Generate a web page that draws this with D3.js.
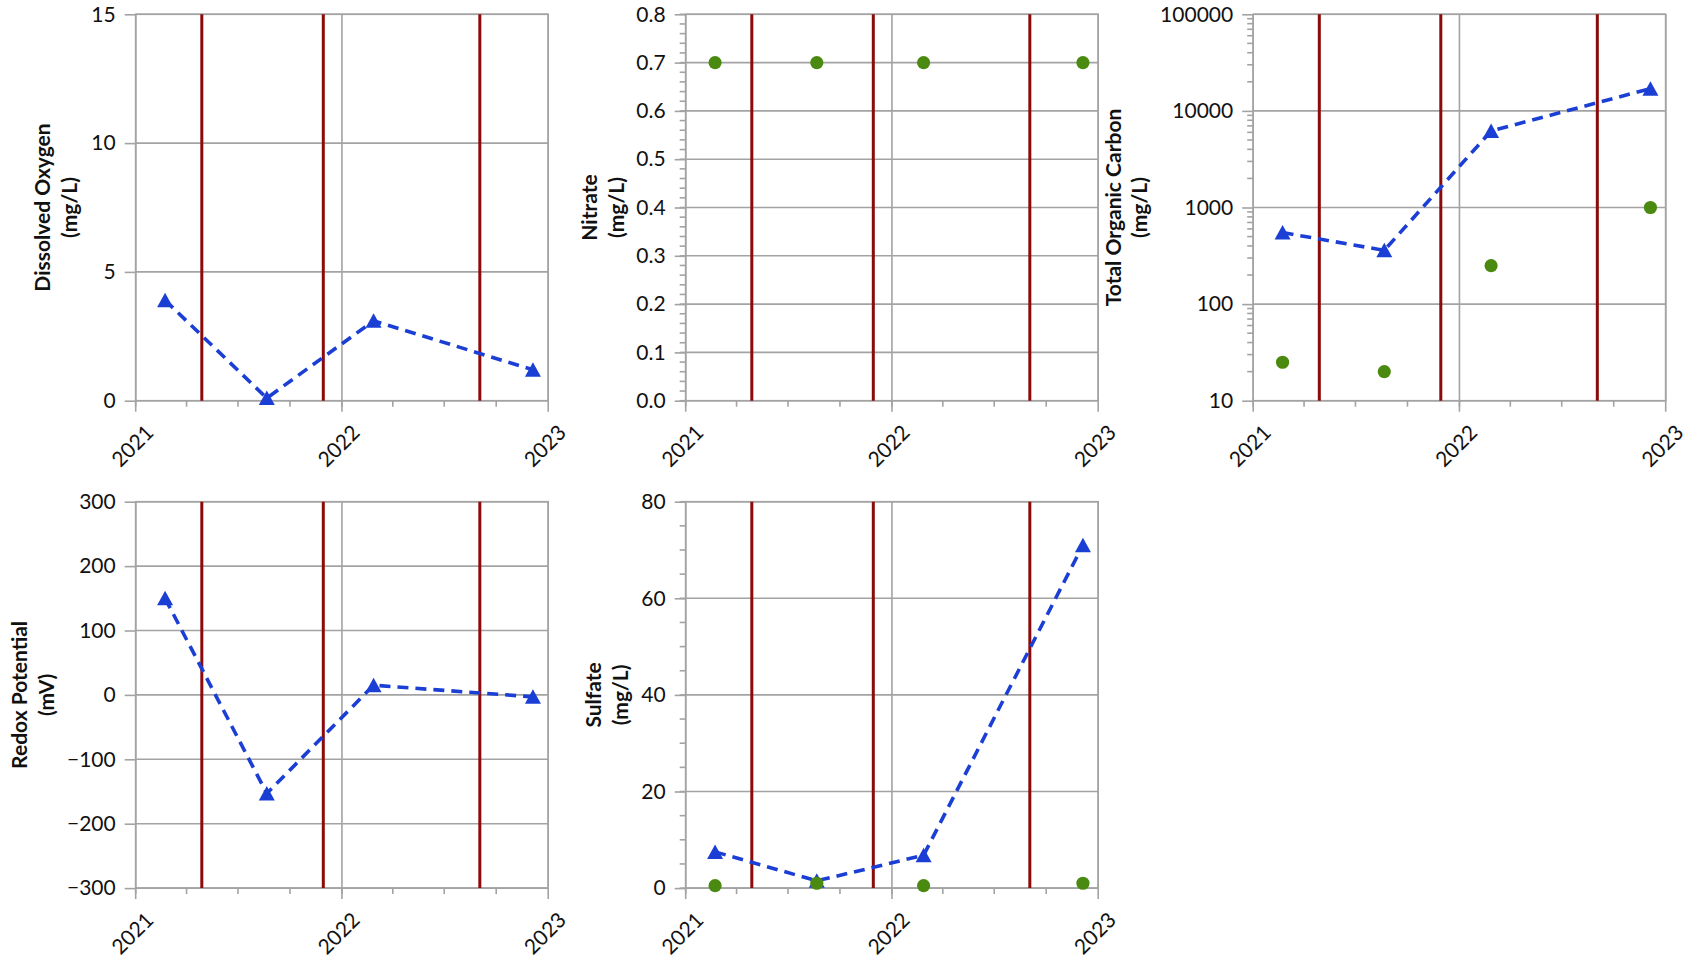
<!DOCTYPE html>
<html>
<head>
<meta charset="utf-8">
<script src="https://cdn.jsdelivr.net/npm/d3@7"></script>
<style>
  html, body { margin: 0; padding: 0; background: #fff; }
  svg { display: block; }
  .tick-label { font-family: Lato, "Open Sans", sans-serif; font-size: 21px; fill: #111; }
  .title { font-family: Lato, "Open Sans", sans-serif; font-size: 21px; font-weight: bold; fill: #111; }
</style>
</head>
<body>
<svg id="chart" width="1696" height="959"></svg>
<script>
// ---------------- data ----------------
const sampleDates = ["2021-02-22", "2021-08-21", "2022-02-26", "2022-12-05"];
const eventDates = ["2021-04-28", "2021-11-29", "2022-09-02"];
const xTickYears = ["2021", "2022", "2023"];

const dissolvedOxygen = [3.9, 0.1, 3.1, 1.2];            // triangles, dashed
const nitrateCircles = [0.7, 0.7, 0.7, 0.7];              // circles
const tocTriangles = [550, 360, 6200, 17000];             // triangles, dashed
const tocCircles = [25, 20, 250, 1000];                   // circles
const redoxTriangles = [150, -153, 15, -3];               // triangles, dashed
const sulfateTriangles = [7.5, 1.5, 6.8, 71];             // triangles, dashed
const sulfateCircles = [0.5, 1, 0.5, 1];                  // circles

const doTicks = [0, 5, 10, 15];
const nitrateTicks = [0, 0.1, 0.2, 0.3, 0.4, 0.5, 0.6, 0.7, 0.8];
const tocTicks = [10, 100, 1000, 10000, 100000];
const redoxTicks = [-300, -200, -100, 0, 100, 200, 300];
const sulfateTicks = [0, 20, 40, 60, 80];

// ---------------- layout ----------------
const parse = d3.timeParse("%Y-%m-%d");
const PW = 412.5, PH = 386.4;
const BLUE = "#1b3fd4", GREEN = "#4b8a10", RED = "#8b0a0a", GRID = "#a3a3a3";

const panels = [
  { left: 135.7, top: 14.3, title: ["Dissolved Oxygen", "(mg/L)"], titleOff: 92.7,
    type: "linear", domain: [0, 15], ticks: doTicks, minorStep: null, fmt: d => d,
    tri: dissolvedOxygen, circ: null },
  { left: 685.7, top: 14.3, title: ["Nitrate", "(mg/L)"], titleOff: 95.7,
    type: "linear", domain: [0, 0.8], ticks: nitrateTicks, minorStep: 0.02, fmt: d3.format(".1f"),
    tri: null, circ: nitrateCircles },
  { left: 1253.2, top: 14.3, title: ["Total Organic Carbon", "(mg/L)"], titleOff: 140,
    type: "log", domain: [10, 100000], ticks: tocTicks, minorStep: "log", fmt: d => d,
    tri: tocTriangles, circ: tocCircles },
  { left: 135.7, top: 501.7, title: ["Redox Potential", "(mV)"], titleOff: 116,
    type: "linear", domain: [-300, 300], ticks: redoxTicks, minorStep: null, fmt: d => (d < 0 ? "\u2212" + Math.abs(d) : d),
    tri: redoxTriangles, circ: null },
  { left: 685.7, top: 501.7, title: ["Sulfate", "(mg/L)"], titleOff: 91.7,
    type: "linear", domain: [0, 80], ticks: sulfateTicks, minorStep: 5, fmt: d => d,
    tri: sulfateTriangles, circ: sulfateCircles }
];

const svg = d3.select("#chart");
const dates = sampleDates.map(parse);
const events = eventDates.map(parse);
const yearDates = xTickYears.map(y => parse(y + "-01-01"));

panels.forEach(p => {
  const g = svg.append("g").attr("transform", `translate(${p.left},${p.top})`);
  const x = d3.scaleTime().domain([yearDates[0], yearDates[yearDates.length - 1]]).range([0, PW]);
  const y = (p.type === "log" ? d3.scaleLog() : d3.scaleLinear()).domain(p.domain).range([PH, 0]);

  // horizontal gridlines
  g.selectAll(".hgrid").data(p.ticks).enter().append("line")
    .attr("x1", 0).attr("x2", PW).attr("y1", d => y(d)).attr("y2", d => y(d))
    .attr("stroke", GRID).attr("stroke-width", 1.6);
  // vertical gridlines at years
  g.selectAll(".vgrid").data(yearDates).enter().append("line")
    .attr("x1", d => x(d)).attr("x2", d => x(d)).attr("y1", 0).attr("y2", PH)
    .attr("stroke", GRID).attr("stroke-width", 1.6);

  // y axis major ticks + labels
  const yAxis = d3.axisLeft(y).tickValues(p.ticks).tickSize(11).tickPadding(8).tickFormat(p.fmt);
  const ya = g.append("g").call(yAxis);
  ya.select(".domain").remove();
  ya.selectAll(".tick line").attr("stroke", GRID).attr("stroke-width", 1.6);
  ya.selectAll(".tick text").attr("class", "tick-label").attr("font-size", null).attr("font-family", null).attr("fill", null).attr("dx", -1);

  // y minor ticks
  let minors = [];
  if (p.minorStep === "log") {
    for (let dec = 10; dec < 100000; dec *= 10) for (let k = 2; k <= 9; k++) minors.push(dec * k);
  } else if (p.minorStep) {
    const n = Math.round((p.domain[1] - p.domain[0]) / p.minorStep);
    for (let i = 0; i <= n; i++) minors.push(p.domain[0] + i * p.minorStep);
  }
  g.selectAll(".yminor").data(minors).enter().append("line")
    .attr("x1", -6).attr("x2", 0).attr("y1", d => y(d)).attr("y2", d => y(d))
    .attr("stroke", GRID).attr("stroke-width", 1.6);

  // x axis ticks
  const quarters = d3.timeMonth.every(3).range(yearDates[0], yearDates[2]);
  g.selectAll(".xminor").data(quarters).enter().append("line")
    .attr("x1", d => x(d)).attr("x2", d => x(d)).attr("y1", PH).attr("y2", PH + 6)
    .attr("stroke", GRID).attr("stroke-width", 1.6);
  g.selectAll(".xmajor").data(yearDates).enter().append("line")
    .attr("x1", d => x(d)).attr("x2", d => x(d)).attr("y1", PH).attr("y2", PH + 11)
    .attr("stroke", GRID).attr("stroke-width", 1.6);
  g.selectAll(".xlabel").data(yearDates).enter().append("text")
    .attr("class", "tick-label")
    .attr("text-anchor", "end")
    .attr("dy", "0.35em")
    .attr("transform", d => `translate(${x(d) + 14},${PH + 28}) rotate(-45)`)
    .text((d, i) => xTickYears[i]);

  // plot border
  g.append("rect").attr("x", 0).attr("y", 0).attr("width", PW).attr("height", PH)
    .attr("fill", "none").attr("stroke", GRID).attr("stroke-width", 1.6);

  // event lines
  g.selectAll(".event").data(events).enter().append("line")
    .attr("x1", d => x(d)).attr("x2", d => x(d)).attr("y1", 0).attr("y2", PH)
    .attr("stroke", RED).attr("stroke-width", 3);

  // triangle series with dashed line
  if (p.tri) {
    const line = d3.line().x((d, i) => x(dates[i])).y(d => y(d));
    const tri = "M0,-7.5L8,7L-8,7Z";
    g.selectAll(".tri").data(p.tri).enter().append("path")
      .attr("d", tri)
      .attr("transform", (d, i) => `translate(${x(dates[i])},${y(d)})`)
      .attr("fill", BLUE);
    g.append("path").datum(p.tri).attr("d", line)
      .attr("fill", "none").attr("stroke", BLUE).attr("stroke-width", 3.6)
      .attr("stroke-dasharray", "11,7");
  }
  // circles series (drawn on top)
  if (p.circ) {
    g.selectAll(".circ").data(p.circ).enter().append("circle")
      .attr("cx", (d, i) => x(dates[i])).attr("cy", d => y(d)).attr("r", 6.6)
      .attr("fill", GREEN);
  }

  // title
  const t = g.append("text").attr("class", "title").attr("text-anchor", "middle")
    .attr("transform", `translate(${-p.titleOff},${PH / 2}) rotate(-90)`);
  t.append("tspan").attr("x", 0).attr("dy", "0.35em").text(p.title[0]);
  t.append("tspan").attr("x", 0).attr("dy", 26.5).text(p.title[1]);
});
</script>
</body>
</html>
